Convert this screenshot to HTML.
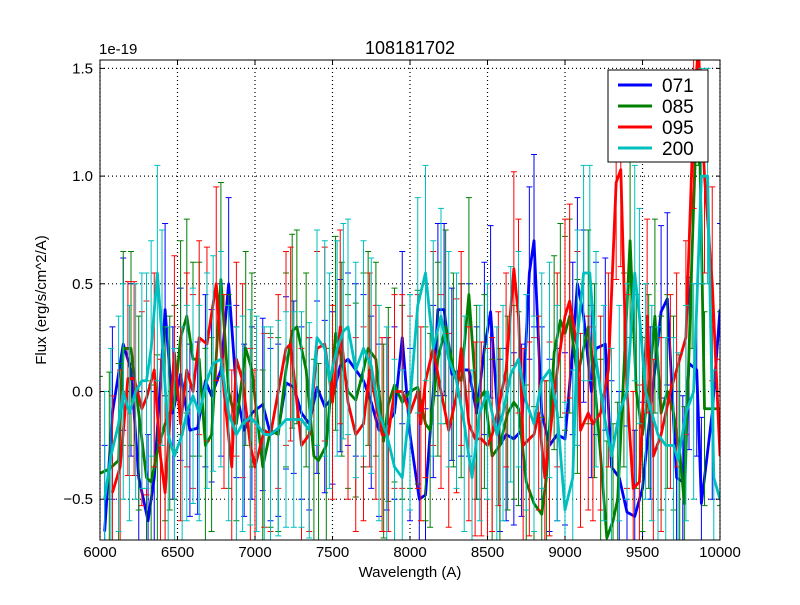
<!DOCTYPE html>
<html><head><meta charset="utf-8"><style>
body{margin:0;background:#fff}
svg text{font-family:"Liberation Sans",sans-serif}
</style></head><body>
<svg id="chart" width="800" height="600" xmlns="http://www.w3.org/2000/svg">
<rect width="800" height="600" fill="#fff"/>
<defs><clipPath id="pc"><rect x="100" y="60" width="620" height="480"/></clipPath></defs>
<g id="grid"></g>
<g id="series" clip-path="url(#pc)"></g>
<rect x="100" y="60" width="620" height="480" fill="none" stroke="#000" stroke-width="1"/>
<g id="ticks"></g>
<text x="410" y="54" font-size="18" text-anchor="middle">108181702</text>
<text x="99" y="54" font-size="15">1e-19</text>
<text x="410" y="577" font-size="15" text-anchor="middle">Wavelength (A)</text>
<text x="46" y="300" font-size="15" text-anchor="middle" transform="rotate(-90 46 300)">Flux (erg/s/cm^2/A)</text>
<g>
<rect x="608" y="70" width="100" height="92" fill="#fff" stroke="#000"/>
<g id="legend"></g>
</g>
</svg>
<script>
const xTicks=[6000,6500,7000,7500,8000,8500,9000,9500,10000];
const yTicks=[-0.5,0.0,0.5,1.0,1.5];
const yTickLabels=["−0.5","0.0","0.5","1.0","1.5"];
const names=["071","085","095","200"];
const colors=["#0000ff","#008000","#ff0000","#00bfbf"];
const errs=[0.4,0.45,0.45,0.5];
const x071=[6030,6080,6150,6200,6250,6310,6350,6420,6470,6520,6580,6630,6680,6720,6780,6830,6880,6930,6980,7050,7100,7150,7200,7250,7300,7350,7400,7450,7500,7550,7600,7650,7700,7750,7800,7850,7900,7950,8000,8060,8100,8150,8180,8220,8270,8330,8380,8430,8480,8520,8580,8620,8670,8720,8770,8800,8850,8900,8950,9000,9050,9080,9120,9170,9200,9260,9300,9350,9400,9450,9500,9550,9620,9660,9720,9760,9800,9850,9880,9950,10000];
const y071=[-0.65,-0.1,0.22,0.1,-0.4,-0.6,-0.4,0.38,-0.1,0.08,-0.18,-0.17,0.05,-0.02,0.1,0.5,0.0,-0.18,-0.1,-0.06,-0.2,-0.18,0.04,0.02,-0.1,-0.15,0.02,-0.07,-0.03,0.12,0.15,0.1,0.05,-0.05,-0.18,-0.15,-0.1,0.25,-0.2,-0.5,-0.48,0.0,0.38,0.38,0.08,0.1,0.1,-0.1,0.2,0.37,-0.25,-0.2,-0.22,-0.18,0.55,0.7,-0.1,-0.25,-0.2,-0.22,0.2,0.5,0.35,0.0,0.2,0.22,-0.35,-0.4,-0.56,-0.58,-0.45,-0.1,0.37,0.43,-0.4,-0.42,0.13,0.1,-0.52,-0.1,0.38];
const x085=[6000,6060,6120,6150,6200,6250,6300,6330,6370,6420,6450,6480,6520,6560,6600,6640,6680,6720,6780,6830,6880,6940,6980,7050,7100,7150,7200,7240,7270,7330,7380,7410,7460,7520,7560,7600,7650,7700,7730,7780,7830,7860,7900,7950,8000,8050,8100,8130,8180,8230,8280,8330,8380,8430,8480,8530,8580,8630,8670,8700,8750,8800,8850,8880,8930,8970,9000,9030,9080,9150,9190,9230,9270,9310,9340,9380,9420,9460,9500,9540,9580,9620,9660,9700,9740,9770,9820,9860,9900,10000];
const y085=[-0.38,-0.36,-0.32,0.2,0.2,-0.1,-0.4,-0.42,-0.28,-0.15,-0.1,-0.05,0.25,0.35,0.15,0.15,-0.25,-0.2,0.52,0.0,-0.15,0.2,0.1,-0.35,-0.18,-0.2,0.1,0.28,0.3,0.1,-0.3,-0.32,-0.25,0.27,0.15,0.0,-0.04,0.1,0.2,0.15,-0.23,-0.06,0.03,-0.05,0.0,0.02,-0.15,-0.18,0.15,0.3,0.1,0.05,0.45,-0.05,0.0,-0.3,-0.25,-0.1,-0.05,-0.08,-0.42,-0.52,-0.57,-0.4,0.18,0.33,0.27,0.35,0.07,0.3,0.05,-0.3,-0.68,-0.6,-0.5,0.1,0.7,0.0,-0.2,0.0,0.35,-0.1,0.0,-0.1,-0.28,-0.52,0.65,1.5,-0.08,-0.08];
const x095=[6080,6130,6180,6220,6270,6300,6350,6390,6420,6480,6520,6560,6600,6640,6690,6750,6800,6850,6880,6920,6970,7000,7060,7100,7150,7200,7230,7300,7350,7400,7450,7500,7550,7600,7650,7700,7740,7780,7820,7860,7900,7950,8000,8050,8070,8100,8150,8200,8250,8300,8330,8380,8420,8460,8500,8530,8570,8620,8670,8700,8730,8770,8800,8830,8870,8900,8950,9000,9030,9080,9100,9150,9180,9230,9280,9330,9360,9400,9440,9480,9530,9570,9620,9680,9720,9780,9830,9860,9900,9950,10000];
const y095=[-0.47,-0.35,0.06,0.06,-0.08,-0.03,0.1,-0.3,-0.47,0.18,-0.15,0.1,0.0,0.25,0.22,0.5,0.0,-0.35,0.15,0.05,-0.25,-0.35,-0.18,-0.2,0.0,0.2,0.22,-0.25,-0.2,0.2,0.22,-0.05,0.3,-0.05,-0.2,-0.15,0.1,-0.05,-0.2,-0.2,0.0,0.0,-0.1,0.0,-0.15,0.05,0.2,0.0,-0.18,-0.02,0.2,-0.15,-0.22,-0.22,-0.25,-0.2,-0.08,0.1,0.57,0.35,-0.25,-0.22,-0.2,-0.1,-0.4,-0.22,0.1,0.35,0.42,0.2,-0.18,-0.1,-0.15,-0.1,0.1,0.97,1.03,0.0,-0.45,-0.42,0.35,-0.3,-0.2,0.0,0.1,0.25,1.3,1.6,1.0,0.5,-0.3];
const x200=[6030,6070,6120,6150,6190,6230,6270,6300,6330,6370,6400,6440,6480,6530,6560,6600,6640,6690,6730,6780,6830,6880,6920,6970,7010,7060,7100,7150,7200,7250,7300,7350,7400,7450,7480,7530,7570,7600,7650,7700,7750,7800,7850,7900,7950,8000,8050,8100,8150,8200,8250,8300,8350,8400,8450,8500,8560,8600,8650,8700,8750,8800,8850,8900,8950,9000,9050,9080,9120,9160,9200,9250,9300,9350,9400,9450,9480,9520,9560,9600,9650,9700,9730,9780,9830,9880,9920,9960,10000];
const y200=[-0.5,-0.3,-0.15,0.0,-0.1,0.0,0.05,0.05,0.2,0.55,0.25,-0.2,-0.3,-0.2,-0.1,-0.02,-0.1,0.05,0.13,0.15,-0.1,-0.2,-0.15,-0.12,-0.15,-0.2,-0.2,-0.17,-0.13,-0.13,-0.13,-0.18,0.25,0.2,0.05,0.2,0.28,0.3,0.1,0.2,0.12,-0.1,-0.2,-0.35,-0.4,-0.05,0.4,0.55,0.2,0.35,0.15,0.05,-0.15,-0.4,-0.1,0.0,-0.2,-0.1,0.08,0.15,-0.05,-0.15,0.05,0.1,-0.1,-0.55,-0.4,0.25,0.55,0.55,0.15,-0.1,-0.3,-0.1,0.0,0.55,0.35,0.0,-0.1,-0.2,-0.25,-0.25,-0.32,-0.1,0.0,1.0,1.0,-0.4,-0.5];
const xs=[x071,x085,x095,x200], ys=[y071,y085,y095,y200];

const NS="http://www.w3.org/2000/svg";
const X0=100,X1=720,XMIN=6000,XMAX=10000;
const YZ=391.5,YS=215.4;
function sx(v){return X0+(v-XMIN)/(XMAX-XMIN)*(X1-X0);}
function sy(v){return YZ-v*YS;}
function mk(tag,attrs,parent){const e=document.createElementNS(NS,tag);for(const k in attrs)e.setAttribute(k,attrs[k]);parent.appendChild(e);return e;}
const grid=document.getElementById('grid'),ticks=document.getElementById('ticks'),ser=document.getElementById('series'),leg=document.getElementById('legend');
xTicks.forEach(t=>{const x=sx(t);
 const g=mk('line',{x1:x,x2:x,y1:60,y2:540,stroke:'#000','stroke-dasharray':'1,3','stroke-width':1.2},grid);
 
 
 mk('line',{x1:x,x2:x,y1:540,y2:536,stroke:'#000'},ticks);
 mk('line',{x1:x,x2:x,y1:60,y2:64,stroke:'#000'},ticks);
 const tx=mk('text',{x:x,y:557,'font-size':15,'text-anchor':'middle'},ticks);tx.textContent=t;
 
 
});
yTicks.forEach((t,i)=>{const y=sy(t);
 const g=mk('line',{x1:100,x2:720,y1:y,y2:y,stroke:'#000','stroke-dasharray':'1,3','stroke-width':1.2},grid);
 
 
 mk('line',{x1:100,x2:104,y1:y,y2:y,stroke:'#000'},ticks);
 mk('line',{x1:716,x2:720,y1:y,y2:y,stroke:'#000'},ticks);
 const tx=mk('text',{x:93,y:y+5,'font-size':15,'text-anchor':'end'},ticks);tx.textContent=yTickLabels[i];
 
 
});
xs.forEach((xa,s)=>{
 const g=mk('g',{},ser);
 
 
 xa.forEach((xv,i)=>{const x=sx(xv),y1=sy(ys[s][i]-errs[s]),y2=sy(ys[s][i]+errs[s]);
  const eb=mk('path',{d:`M${x},${y1}V${y2}M${x-3},${y1}h6M${x-3},${y2}h6`,stroke:colors[s],'stroke-width':1,fill:'none'},g);
  
  
 });
 const pts=xa.map((xv,i)=>sx(xv)+','+sy(ys[s][i])).join(' ');
 const pl=mk('polyline',{points:pts,fill:'none',stroke:colors[s],'stroke-width':2.8,'stroke-linejoin':'round'},g);
 
 
 const ly=85+s*21;
 const le=mk('g',{},leg);
 
 
 mk('line',{x1:618,x2:652,y1:ly,y2:ly,stroke:colors[s],'stroke-width':3},le);
 const t=mk('text',{x:662,y:ly+7,'font-size':19},le);t.textContent=names[s];
});
</script>
</body></html>
